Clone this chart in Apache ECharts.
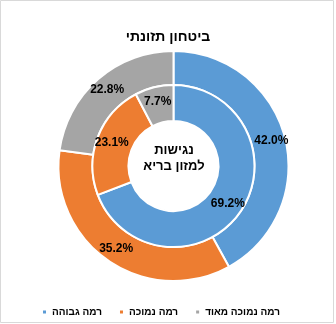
<!DOCTYPE html>
<html><head><meta charset="utf-8">
<script src="https://cdn.jsdelivr.net/npm/echarts@6/dist/echarts.min.js"></script>
<style>html,body{margin:0;padding:0;background:#fff;}#c{width:336px;height:324px;}</style>
</head><body><div id="c"></div>
<script>
const categories = ['רמה גבוהה', 'רמה נמוכה', 'רמה נמוכה מאוד'];
const outerValues = [42.0, 35.2, 22.8];   // ביטחון תזונתי
const innerValues = [69.2, 23.1, 7.7];    // נגישות למזון בריא
const colors = ['#5b9bd5', '#ed7d31', '#a5a5a5'];
const titleText = 'ביטחון תזונתי';
const centerText = 'נגישות\nלמזון בריא';

const FONT = '"Liberation Sans", Arial, "DejaVu Sans", sans-serif';
const chart = echarts.init(document.getElementById('c'), null, {renderer: 'canvas'});
function mk(vals) { return vals.map((v, i) => ({name: categories[i], value: v, itemStyle: {color: colors[i]}})); }
const labelCfg = {
  show: true, position: 'inside', color: '#000', fontFamily: FONT, fontSize: 12, fontWeight: 'bold',
  formatter: p => p.value.toFixed(1) + '%'
};
chart.setOption({
  animation: false,
  title: {text: titleText, left: 'center', top: 25, textStyle: {fontFamily: FONT, fontSize: 14, fontWeight: 'bold', color: '#000'}},
  legend: {
    data: categories, left: 36, top: 302, itemWidth: 5, itemHeight: 5, itemGap: 16, icon: 'rect',
    textStyle: {fontFamily: FONT, fontSize: 10, fontWeight: 'bold', color: '#000', padding: [0, 0, 0, 0]}
  },
  graphic: [
    {type: 'rect', shape: {x: 0.5, y: 0.5, width: 333, height: 322}, style: {fill: 'none', stroke: '#d9d9d9', lineWidth: 1}, silent: true},
    {type: 'text', x: 174, y: 158, style: {text: centerText, textAlign: 'center', textVerticalAlign: 'middle', fontFamily: FONT, fontSize: 13, fontWeight: 'bold', lineHeight: 16, fill: '#000'}}
  ],
  series: [
    {type: 'pie', center: [173.5, 166], radius: [81, 115], startAngle: 90, clockwise: true, label: labelCfg, labelLine: {show: false},
     itemStyle: {borderColor: '#fff', borderWidth: 2}, data: mk(outerValues), silent: true},
    {type: 'pie', center: [173.5, 166], radius: [45, 81], startAngle: 90, clockwise: true, label: labelCfg, labelLine: {show: false},
     itemStyle: {borderColor: '#fff', borderWidth: 2}, data: mk(innerValues), silent: true}
  ]
});
</script></body></html>
